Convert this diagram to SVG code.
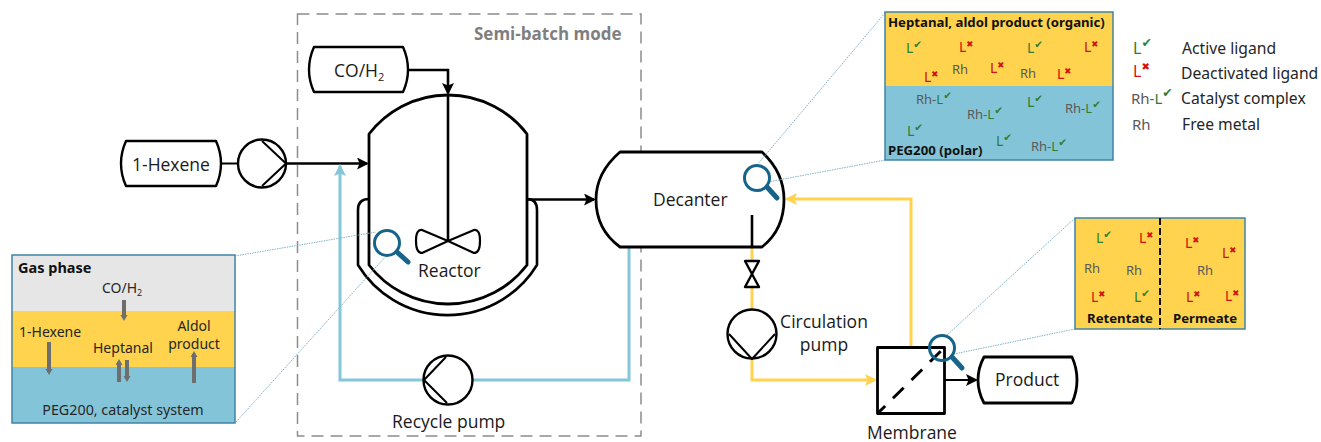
<svg xmlns="http://www.w3.org/2000/svg" width="1321" height="442" viewBox="0 0 1321 442">
<style>
.s{fill:#fff;stroke:#000;stroke-width:2.4;stroke-linejoin:round}
.n{fill:none;stroke:#000;stroke-width:2.6;stroke-linejoin:round}
.t{font-family:"Open Sans",sans-serif;font-size:17.500px;fill:#1a1a1a}
.m{font-family:"Noto Sans",sans-serif;font-size:14px;fill:#262626}
.b{font-family:"Noto Sans",sans-serif;font-size:13.200px;font-weight:700;fill:#111}
.lg{font-family:"Noto Sans",sans-serif;font-size:15.700px;fill:#262626}
.rh{font-family:"Noto Sans",sans-serif;font-size:13px;fill:#595959}
.gr{font-family:"Noto Sans",sans-serif;font-size:14px;fill:#2e7d32}
.rd{font-family:"Noto Sans",sans-serif;font-size:14px;fill:#d01010}
.ck{font-family:"DejaVu Sans",sans-serif;font-size:10.500px;fill:#2e7d32}
.xx{font-family:"DejaVu Sans",sans-serif;font-size:8.500px;fill:#d01010}
.dot{fill:none;stroke:#7fb2c9;stroke-width:1;stroke-dasharray:1.500 1}
.y{fill:none;stroke:#ffd34d;stroke-width:3}
.c{fill:none;stroke:#84c6da;stroke-width:3}
.k{fill:none;stroke:#000;stroke-width:2.600}
.box{stroke:#3f84a6;stroke-width:1.500}
.mag circle{fill:none;stroke:#17648a;stroke-width:3}
.mag line{stroke:#17648a;stroke-width:5;stroke-linecap:round}
.ga{fill:none;stroke:#6e6e6e;stroke-width:4}
</style>
<defs>
<marker id="ak" markerUnits="userSpaceOnUse" markerWidth="13" markerHeight="13" refX="10" refY="6" orient="auto"><path d="M0,0L12,6L0,12L2.500,6Z" fill="#000"/></marker>
<marker id="ay" markerUnits="userSpaceOnUse" markerWidth="13" markerHeight="13" refX="10" refY="6" orient="auto"><path d="M0,0L12,6L0,12L2.500,6Z" fill="#ffd34d"/></marker>
<marker id="ac" markerUnits="userSpaceOnUse" markerWidth="13" markerHeight="13" refX="10" refY="6" orient="auto"><path d="M0,0L12,6L0,12L2.500,6Z" fill="#84c6da"/></marker>
<marker id="ag" markerUnits="userSpaceOnUse" markerWidth="8" markerHeight="8" refX="3" refY="3.500" orient="auto"><path d="M0,0L6,3.500L0,7Z" fill="#6e6e6e"/></marker>
</defs>

<g id="semi-batch-frame">
<rect x="297.500" y="14" width="343.500" height="422" fill="none" stroke="#8c8c8c" stroke-width="1.500" stroke-dasharray="12 7"/>
<text x="474" y="40" font-family="'Open Sans',sans-serif" font-size="17" font-weight="700" fill="#7f7f7f">Semi-batch mode</text>
</g>

<g id="connectors">
<path class="k" d="M220,163.500H238" style="stroke-width:2"/>
<path class="k" d="M286,163.500H367" marker-end="url(#ak)"/>
<path class="k" d="M408,70H448V93" marker-end="url(#ak)"/>
<path class="k" d="M527,199.500H594" marker-end="url(#ak)"/>
<path class="k" d="M945,380H976" style="stroke-width:2" marker-end="url(#ak)"/>
<path class="c" d="M629,247V380H473M424,380H340V166" marker-end="url(#ac)"/>
<path class="y" d="M752,247V261M752,287V309"/>
<path class="y" d="M752,359V380H875" marker-end="url(#ay)"/>
<path class="y" d="M911,347V199H787" marker-end="url(#ay)"/>
</g>

<g id="reactor">
<path class="n" d="M369,199Q358,199 358,210V265A105,105 0 0 0 537,265V210Q537,199 527,199"/>
<path class="s" style="stroke-width:2.800" d="M369,265V134A99.500,99.500 0 0 1 527,134V265A99.500,99.500 0 0 1 369,265Z"/>
<path class="n" d="M448,95V241"/>
<path class="n" style="stroke-width:2.200" d="M448,241L422,230Q416,229 416,241Q416,253 422,253ZM448,241L474,230Q480,229 480,241Q480,253 474,253Z"/>
<text class="t" x="418" y="277">Reactor</text>
</g>

<g id="co-h2"><path class="s" d="M314,47H403Q408,58 408,70Q408,81 403,92H314Q309,81 309,70Q309,58 314,47Z"/>
<text class="t" x="334" y="77">CO/H<tspan font-size="11" dy="4">2</tspan></text></g>

<g id="hexene"><path class="s" d="M126,141H216Q221,152 221,163.500Q221,175 216,186H126Q121,175 121,163.500Q121,152 126,141Z"/>
<text class="t" x="132" y="171">1-Hexene</text></g>

<g id="feed-pump"><circle class="s" cx="262" cy="163.500" r="24"/><path class="n" style="stroke-width:2" d="M262,141L286,163.500L262,186"/></g>

<g id="recycle-pump"><circle class="s" cx="448" cy="380" r="24.500"/><path class="n" style="stroke-width:2" d="M446,357L424,380L447,403"/>
<text class="t" x="392" y="428">Recycle pump</text></g>

<g id="decanter"><path class="s" style="stroke-width:2.800" d="M620,152H762C776,165 784,180 784,199.500C784,220 776,236 762,247H620C605,236 596,220 596,199.500C596,180 605,165 620,152Z"/>
<path class="n" d="M752,215V247"/>
<text class="t" x="653" y="206">Decanter</text></g>

<g id="valve"><path class="s" d="M745,261H759L745,287H759Z"/></g>

<g id="circulation-pump"><circle class="s" cx="752" cy="334" r="24.500"/><path class="n" style="stroke-width:2" d="M729,334L752,359L775,334"/>
<text class="t" x="824" y="328" text-anchor="middle">Circulation</text><text class="t" x="824" y="351" text-anchor="middle">pump</text></g>

<g id="membrane"><rect class="s" style="stroke-width:2.800" x="877.500" y="347.500" width="67" height="66"/>
<path class="k" style="stroke-width:3" d="M878,413L945,347" stroke-dasharray="10 11 15 11 15 11 15"/>
<text class="t" x="867" y="439">Membrane</text></g>

<g id="product"><path class="s" style="stroke-width:2.800" d="M984,357H1072Q1077,368 1077,380Q1077,392 1072,403H984Q978,392 978,380Q978,368 984,357Z"/>
<text class="t" x="995" y="386">Product</text></g>

<g id="zoom-lines">
<path class="dot" d="M235,256L376,232M236,422L386,256"/>
<path class="dot" d="M885,13L757,165M885,160L768,182"/>
<path class="dot" d="M1075,218L947,335M1075,329L954,354"/>
</g>

<g id="magnifier-reactor" class="mag"><circle cx="387" cy="243" r="12.500"/><line x1="397" y1="252" x2="408" y2="262"/></g>
<g id="magnifier-decanter" class="mag"><circle cx="757" cy="178" r="12.500"/><line x1="767" y1="187" x2="777" y2="198"/></g>
<g id="magnifier-membrane" class="mag"><circle cx="942" cy="348" r="12.500"/><line x1="952" y1="357" x2="962" y2="368"/></g>

<g id="inset-gas">
<rect x="12" y="255" width="223" height="56" fill="#e6e6e6"/>
<rect x="12" y="311" width="223" height="56" fill="#ffd34d"/>
<rect x="12" y="367" width="223" height="56" fill="#84c4d8"/>
<rect class="box" x="12" y="255" width="223" height="168" fill="none"/>
<text class="b" x="18" y="273" style="font-size:14.500px">Gas phase</text>
<text class="m" x="102" y="293">CO/H<tspan font-size="9" dy="3">2</tspan></text>
<text class="m" x="19" y="337">1-Hexene</text>
<text class="m" x="93" y="353">Heptanal</text>
<text class="m" x="194" y="331" text-anchor="middle">Aldol</text>
<text class="m" x="194" y="349" text-anchor="middle">product</text>
<text class="m" x="123" y="415" text-anchor="middle" style="font-size:14.300px">PEG200, catalyst system</text>
<path class="ga" d="M124,300V318" marker-end="url(#ag)"/>
<path class="ga" d="M49,342V372" marker-end="url(#ag)"/>
<path class="ga" d="M119,382V362" marker-end="url(#ag)"/>
<path class="ga" d="M127,360V379" marker-end="url(#ag)"/>
<path class="ga" d="M194,383V354" marker-end="url(#ag)"/>
</g>

<g id="inset-decanter">
<rect x="885" y="12" width="228" height="74" fill="#ffd34d"/>
<rect x="885" y="86" width="228" height="74" fill="#84c4d8"/>
<rect class="box" x="885" y="12" width="228" height="148" fill="none"/>
<text class="b" x="888" y="27">Heptanal, aldol product (organic)</text>
<text class="b" x="888" y="155">PEG200 (polar)</text>
<text class="gr" x="906" y="53">L<tspan class="ck" dy="-5">✔</tspan></text>
<text class="rd" x="959" y="52">L<tspan class="xx" dy="-5">✖</tspan></text>
<text class="gr" x="1027" y="53">L<tspan class="ck" dy="-5">✔</tspan></text>
<text class="rd" x="1084" y="52">L<tspan class="xx" dy="-5">✖</tspan></text>
<text class="rd" x="924" y="82">L<tspan class="xx" dy="-5">✖</tspan></text>
<text class="rh" x="952" y="74">Rh</text>
<text class="rd" x="990" y="73">L<tspan class="xx" dy="-5">✖</tspan></text>
<text class="rh" x="1020" y="78">Rh</text>
<text class="rd" x="1057" y="79">L<tspan class="xx" dy="-5">✖</tspan></text>
<text class="rh" x="916" y="104">Rh-<tspan fill="#2e7d32">L</tspan><tspan class="ck" dy="-5">✔</tspan></text>
<text class="gr" x="1027" y="107">L<tspan class="ck" dy="-5">✔</tspan></text>
<text class="rh" x="967" y="119">Rh-<tspan fill="#2e7d32">L</tspan><tspan class="ck" dy="-5">✔</tspan></text>
<text class="rh" x="1065" y="113">Rh-<tspan fill="#2e7d32">L</tspan><tspan class="ck" dy="-5">✔</tspan></text>
<text class="gr" x="907" y="136">L<tspan class="ck" dy="-5">✔</tspan></text>
<text class="gr" x="996" y="146">L<tspan class="ck" dy="-5">✔</tspan></text>
<text class="rh" x="1031" y="151">Rh-<tspan fill="#2e7d32">L</tspan><tspan class="ck" dy="-5">✔</tspan></text>
</g>

<g id="legend">
<text class="gr" x="1133" y="54" style="font-size:16px">L<tspan class="ck" dy="-7" style="font-size:12.500px">✔</tspan></text>
<text class="rd" x="1133" y="77" style="font-size:16px">L<tspan class="xx" dy="-7" style="font-size:10px">✖</tspan></text>
<text class="rh" x="1131" y="104" style="font-size:15px">Rh-<tspan fill="#2e7d32">L</tspan><tspan class="ck" dy="-7" style="font-size:12.500px">✔</tspan></text>
<text class="rh" x="1132" y="130" style="font-size:15px">Rh</text>
<text class="lg" x="1182" y="54">Active ligand</text>
<text class="lg" x="1181" y="79">Deactivated ligand</text>
<text class="lg" x="1181" y="104">Catalyst complex</text>
<text class="lg" x="1182" y="130">Free metal</text>
</g>

<g id="inset-membrane">
<rect class="box" x="1075" y="218" width="170" height="111" fill="#ffd34d"/>
<path d="M1160,218V329" stroke="#111" stroke-width="2" stroke-dasharray="7 3" fill="none"/>
<text class="gr" x="1096" y="243">L<tspan class="ck" dy="-5">✔</tspan></text>
<text class="rd" x="1139" y="243">L<tspan class="xx" dy="-5">✖</tspan></text>
<text class="rd" x="1185" y="248">L<tspan class="xx" dy="-5">✖</tspan></text>
<text class="rd" x="1222" y="258">L<tspan class="xx" dy="-5">✖</tspan></text>
<text class="rh" x="1084" y="273">Rh</text>
<text class="rh" x="1126" y="275">Rh</text>
<text class="rh" x="1197" y="275">Rh</text>
<text class="rd" x="1091" y="302">L<tspan class="xx" dy="-5">✖</tspan></text>
<text class="gr" x="1134" y="302">L<tspan class="ck" dy="-5">✔</tspan></text>
<text class="rd" x="1186" y="302">L<tspan class="xx" dy="-5">✖</tspan></text>
<text class="rd" x="1225" y="301">L<tspan class="xx" dy="-5">✖</tspan></text>
<text class="b" x="1087" y="323">Retentate</text>
<text class="b" x="1173" y="323">Permeate</text>
</g>
</svg>
